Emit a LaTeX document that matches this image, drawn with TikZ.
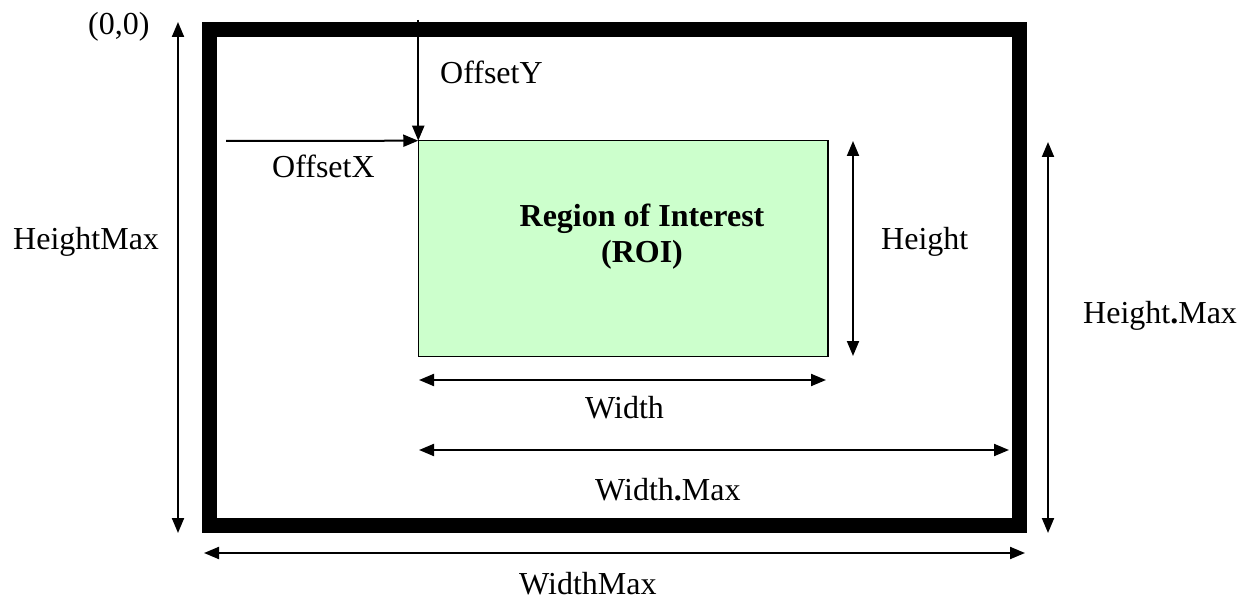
\documentclass[tikz,border=0pt]{standalone}
\usepackage{fontspec}
\setmainfont{Liberation Serif}
\usetikzlibrary{arrows.meta}
\definecolor{roigreen}{RGB}{204,255,204}
\begin{document}
\begin{tikzpicture}[x=1pt,y=-1pt,
  lbl/.style={inner sep=0pt, anchor=base west, font=\fontsize{32}{36}\selectfont},
  roitext/.style={inner sep=0pt, anchor=base, font=\fontsize{32}{36}\selectfont\bfseries},
  tip/.tip={Triangle[length=15pt,width=12pt]},
  dimline/.style={line width=2pt, tip-tip},
  arr/.style={line width=2pt, -tip},
]
\useasboundingbox (0,0) rectangle (1246,601);
% outer frame
\node (frame) [draw, line width=15pt, minimum width=809.5pt, minimum height=495.5pt, inner sep=0pt, outer sep=0pt] at (614.25,277.25) {};
% region of interest
\node (roi) [draw, line width=1.5pt, fill=roigreen, minimum width=409.5pt, minimum height=216pt, inner sep=0pt, outer sep=0pt] at (623,248.7) {};
\node (roi1) [roitext] at (642,227) {Region of Interest};
\node (roi2) [roitext] at (642,263) {(ROI)};
% labels
\node (origin) [lbl] at (88,35) {(0,0)};
\node (offy) [lbl] at (440,84) {OffsetY};
\node (offx) [lbl] at (272,178) {OffsetX};
\node (hmax) [lbl] at (13,250) {HeightMax};
\node (hgt) [lbl] at (881,250) {Height};
\node (hdmax) [lbl] at (1083,323) {Height\textbf{.}Max};
\node (wid) [lbl] at (585,418) {Width};
\node (wdmax) [lbl] at (595,500) {Width\textbf{.}Max};
\node (wmax) [lbl] at (519,594) {WidthMax};
% coordinates for dimension arrows
\coordinate (oys) at (418.25,20);
\coordinate (oxs) at (226,141);
\coordinate (hm1) at (178,22);
\coordinate (hm2) at (178,533);
\coordinate (h1) at (853,141);
\coordinate (h2) at (853,356);
\coordinate (hd1) at (1048,142);
\coordinate (hd2) at (1048,533);
\coordinate (w1) at (419,380);
\coordinate (w2) at (826,380);
\coordinate (wd1) at (419,450);
\coordinate (wd2) at (1009,450);
\coordinate (wm1) at (204,553);
\coordinate (wm2) at (1025,553);
% arrows
\draw[arr] (oys) -- (roi.north west);
\draw[arr] (oxs) -- (roi.north west);
\draw[dimline] (hm1) -- (hm2);
\draw[dimline] (h1) -- (h2);
\draw[dimline] (hd1) -- (hd2);
\draw[dimline] (w1) -- (w2);
\draw[dimline] (wd1) -- (wd2);
\draw[dimline] (wm1) -- (wm2);
\end{tikzpicture}
\end{document}
